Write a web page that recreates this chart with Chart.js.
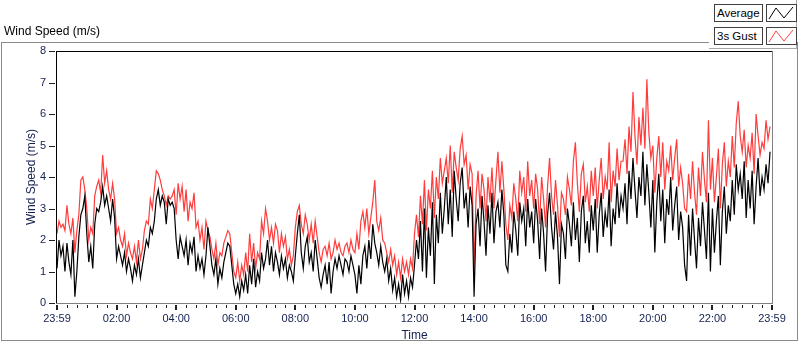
<!DOCTYPE html>
<html>
<head>
<meta charset="utf-8">
<script src="https://cdn.jsdelivr.net/npm/chart.js@4.4.1/dist/chart.umd.min.js"></script>
<style>
html,body{margin:0;padding:0;background:#fff;}
#wrap{position:relative;width:800px;height:342px;overflow:hidden;font-family:"Liberation Sans",Arial,sans-serif;}
#c{position:absolute;left:0;top:0;}
#title{position:absolute;left:4px;top:24px;font-size:12px;color:#000;white-space:nowrap;}
#frame{position:absolute;left:1px;top:42px;width:795px;height:297px;border:1px solid #8a8a8a;box-sizing:content-box;}
#legpanel{position:absolute;left:709px;top:0;width:87px;height:48px;background:#fff;border-right:1px solid #a8a8a8;border-bottom:1px solid #a8a8a8;}
.lbox{position:absolute;left:714px;width:45px;height:16px;border:1px solid #404040;background:#fff;font-size:11.5px;line-height:16px;padding-left:2px;color:#000;white-space:nowrap;}
.ibox{position:absolute;left:766px;width:29px;height:16px;border:1px solid #404040;background:#fff;}
.ibox svg{position:absolute;left:0;top:0;}
</style>
</head>
<body>
<div id="wrap">
  <div id="frame"></div>
  <canvas id="c" width="800" height="342"></canvas>
  <div id="title">Wind Speed (m/s)</div>
  <div id="legpanel"></div>
  <div class="lbox" style="top:4px">Average</div>
  <div class="ibox" style="top:4px"><svg width="29" height="16"><polyline points="2,14 9,3 17,13 26,2" fill="none" stroke="#000" stroke-width="1"/></svg></div>
  <div class="lbox" style="top:27px">3s Gust</div>
  <div class="ibox" style="top:27px"><svg width="29" height="16"><polyline points="2,14 9,3 17,13 26,2" fill="none" stroke="#ff4040" stroke-width="1"/></svg></div>
</div>
<script>
// Sample interval (minutes) of the series below, starting at the first tick
const sampleMinutes = 4;

// Average wind speed (m/s), 15 samples per hour
const averageSpeed = [
  1.1,2.0,1.5,1.8,1.0,1.9,1.3,0.9,2.0,0.2,1.0,2.1,2.8,3.0,3.4,
  2.2,1.3,1.8,1.1,2.5,3.0,2.9,3.2,3.7,3.1,3.4,3.0,2.6,3.3,2.7,
  1.4,1.8,1.5,1.2,1.6,1.0,1.4,1.1,0.7,1.2,0.9,1.4,0.8,1.2,1.6,
  2.0,1.8,2.4,2.2,2.6,3.3,3.6,3.1,3.4,3.2,2.5,3.3,3.1,3.2,3.0,
  2.0,1.4,2.1,1.8,1.5,2.0,1.2,1.9,1.6,2.1,1.0,1.5,1.1,1.4,0.9,
  1.5,2.4,1.8,1.2,0.9,1.4,0.6,1.1,0.8,1.3,1.6,1.9,1.8,1.2,0.6,
  0.3,0.6,0.2,0.7,0.4,0.9,0.3,1.2,0.6,1.4,0.5,1.0,0.7,1.6,1.1,
  1.4,2.0,1.2,1.8,1.0,1.6,1.3,0.9,1.5,1.1,1.4,0.8,1.2,1.0,0.7,
  1.5,2.2,2.8,1.6,1.1,1.8,2.1,1.3,1.6,1.0,2.0,1.4,0.8,0.5,0.9,
  1.2,0.6,1.3,0.3,1.0,1.4,1.1,1.5,1.2,0.9,1.4,1.3,1.0,1.5,1.2,
  0.9,0.3,1.2,0.6,1.5,1.8,1.1,2.0,1.4,2.5,1.9,1.6,1.2,1.8,1.3,
  1.0,1.4,0.7,1.1,0.4,0.8,0.2,0.6,0.1,0.9,0.3,0.7,0.2,0.8,0.5,
  1.2,2.0,1.4,2.6,1.0,3.0,0.8,2.4,1.5,3.2,0.6,2.8,1.9,3.5,2.2,
  3.0,4.0,2.5,3.6,2.1,4.2,3.3,2.6,3.8,4.3,3.0,3.5,2.4,3.7,3.1,
  0.2,2.5,3.0,1.8,3.4,2.6,1.5,3.1,2.2,3.5,1.9,2.9,3.2,2.4,3.6,
  2.8,1.2,1.0,2.2,1.6,2.9,2.3,1.5,3.2,2.6,3.0,1.8,3.3,2.4,2.9,
  1.9,3.3,2.6,1.4,3.0,2.2,1.0,2.8,3.5,2.4,1.7,2.9,2.1,0.6,2.5,
  2.2,1.4,3.0,2.5,1.8,3.2,2.0,2.7,1.3,2.9,3.4,1.9,2.6,1.6,3.1,
  2.3,3.3,1.6,2.8,3.5,2.1,2.9,2.4,3.6,1.8,3.0,2.5,3.8,2.7,3.4,
  3.0,3.8,2.5,4.2,3.3,4.6,3.6,2.7,4.0,3.4,4.8,3.1,4.4,3.5,2.4,
  3.9,1.6,3.2,4.1,2.6,3.6,1.9,3.3,2.8,4.0,2.3,3.1,3.7,2.0,2.9,
  2.4,1.2,0.7,2.8,1.5,3.0,2.0,1.1,2.7,1.8,3.2,2.3,1.4,3.5,1.0,
  3.0,1.6,2.6,3.4,1.2,2.9,3.7,2.2,3.1,2.6,3.9,2.8,4.4,3.6,4.1,
  3.3,4.5,2.7,3.9,3.0,4.2,2.5,3.7,4.6,3.4,4.0,3.6,4.4,3.8,4.8
];

// 3 second gust (m/s), 15 samples per hour
const gustSpeed = [
  2.2,2.6,2.4,2.5,2.3,3.1,2.5,2.2,2.7,1.6,2.3,2.8,3.9,4.0,3.6,
  3.0,2.0,2.4,2.2,3.4,3.7,3.9,3.5,4.7,3.8,4.2,3.6,3.3,3.8,3.3,
  2.2,2.4,2.0,1.8,2.2,1.5,1.9,1.6,1.4,1.8,1.3,2.0,1.4,1.7,2.3,
  2.6,2.5,3.3,3.0,3.6,4.2,4.1,3.9,3.6,3.4,3.1,3.4,3.3,3.4,3.6,
  2.8,3.8,3.3,3.7,2.9,3.6,2.6,3.2,3.0,3.5,2.4,2.6,2.0,2.4,1.7,
  2.6,2.3,2.1,1.7,1.4,1.9,1.2,1.6,1.5,1.9,2.1,2.3,2.2,1.6,1.0,
  0.8,1.3,0.7,1.2,0.9,1.6,1.0,2.2,1.3,1.9,1.1,1.6,1.4,2.6,2.2,
  3.0,2.6,2.0,2.4,1.9,2.5,2.3,1.6,2.2,1.8,2.1,1.4,1.7,1.2,1.5,
  2.4,2.9,3.1,2.5,2.2,2.8,2.5,2.0,2.5,1.9,2.6,2.1,1.6,1.3,1.7,
  1.8,1.5,1.9,1.4,1.6,2.0,1.7,1.9,1.6,1.5,1.8,1.9,1.6,2.0,1.7,
  1.6,2.2,1.7,2.6,2.9,2.4,3.0,2.2,2.7,3.2,3.9,2.6,2.3,2.7,2.0,
  1.9,1.6,1.3,1.7,1.2,1.5,0.9,1.3,0.8,1.4,1.0,1.3,0.9,1.4,1.1,
  2.2,2.8,2.1,3.4,2.5,3.9,2.3,3.6,3.0,4.2,2.7,4.0,3.3,4.6,3.8,
  4.2,4.6,3.8,5.0,3.5,4.8,4.3,3.9,4.9,5.3,4.4,4.7,3.6,4.4,4.1,
  1.1,3.4,4.2,3.0,4.1,3.6,2.6,4.0,3.2,4.3,3.0,3.9,4.8,3.5,4.5,
  3.6,2.5,2.0,3.1,2.7,3.8,3.3,2.6,4.2,3.5,4.0,2.9,4.5,3.4,3.9,
  3.0,4.1,3.6,2.5,4.0,3.3,2.4,3.7,4.6,3.4,2.8,3.9,3.1,2.1,3.5,
  3.3,2.8,4.0,3.6,3.1,4.5,5.1,3.8,2.9,4.1,4.4,3.2,3.7,2.9,4.2,
  3.4,4.3,3.0,3.9,4.6,3.3,4.0,3.6,5.1,3.2,4.2,3.7,4.9,3.9,4.5,
  4.5,5.2,4.1,5.6,4.8,6.7,5.3,4.4,5.9,5.0,6.2,4.9,7.1,5.4,4.6,
  5.0,3.5,4.6,5.3,4.0,5.1,3.6,4.5,4.2,5.0,3.9,4.6,5.2,3.7,4.3,
  3.8,3.0,2.9,4.1,3.3,4.5,3.5,2.8,4.3,3.4,4.8,3.9,3.2,5.8,3.6,
  4.6,3.2,4.0,4.9,3.0,4.4,5.1,3.7,4.5,4.0,5.3,4.3,5.7,6.4,5.3,
  4.8,5.5,4.3,5.0,4.6,5.4,4.1,6.0,5.3,4.7,5.1,4.9,5.8,5.2,5.6
];

// Time axis: labelled ticks (minutes from start) and their texts
const timeTickMinutes = [0,120,240,360,480,600,720,840,960,1080,1200,1320,1440];
const timeTickLabels  = ['23:59','02:00','04:00','06:00','08:00','10:00','12:00','14:00','16:00','18:00','20:00','22:00','23:59'];
const minorTickStep = 20;
const speedTicks = [0,1,2,3,4,5,6,7,8];

const avgPts = averageSpeed.map((v,i)=>({x:i*sampleMinutes,y:v}));
const gustPts = gustSpeed.map((v,i)=>({x:i*sampleMinutes,y:v}));

const AXIS_COLOR = '#142050';

const framePlugin = {
  id:'frameTicks',
  afterDraw(chart){
    const ctx = chart.ctx, a = chart.chartArea;
    const xs = chart.scales.x, ys = chart.scales.y;
    ctx.save();
    ctx.fillStyle = '#000';
    ctx.fillRect(Math.round(a.left)-1, Math.round(a.top), Math.round(a.right-a.left)+1, 1);
    ctx.fillRect(Math.round(a.left)-1, Math.round(a.top), 1, Math.round(a.bottom-a.top)+1);
    ctx.fillStyle = '#808080';
    ctx.fillRect(Math.round(a.left)-1, Math.round(a.bottom), Math.round(a.right-a.left)+2, 1);
    ctx.fillRect(Math.round(a.right), Math.round(a.top), 1, Math.round(a.bottom-a.top)+1);
    ctx.fillStyle = '#202020';
    for (let m = 0; m <= 1440; m += minorTickStep){
      const px = Math.round(xs.getPixelForValue(m));
      if (timeTickMinutes.includes(m)) ctx.fillRect(px-1, Math.round(a.bottom)+2, 2, 5);
      else ctx.fillRect(px, Math.round(a.bottom)+2, 1, 3);
    }
    speedTicks.forEach(v=>{
      const py = Math.round(ys.getPixelForValue(v));
      ctx.fillRect(Math.round(a.left)-8, py, 6, 1);
    });
    ctx.restore();
  }
};

new Chart(document.getElementById('c'), {
  type:'line',
  data:{
    datasets:[
      {label:'Average', data:avgPts, borderColor:'#000000', borderWidth:1.2, pointRadius:0, tension:0, fill:false},
      {label:'3s Gust', data:gustPts, borderColor:'#ff3c3c', borderWidth:1.2, pointRadius:0, tension:0, fill:false}
    ]
  },
  options:{
    responsive:false,
    animation:false,
    events:[],
    layout:{padding:{left:0,top:51,right:28,bottom:0}},
    plugins:{legend:{display:false}, tooltip:{enabled:false}},
    scales:{
      x:{
        type:'linear', min:0, max:1440,
        afterBuildTicks(scale){ scale.ticks = timeTickMinutes.map(v=>({value:v})); },
        ticks:{
          autoSkip:false, maxRotation:0, minRotation:0,
          callback:(v)=>{ const i = timeTickMinutes.indexOf(v); return i>=0 ? timeTickLabels[i] : ''; },
          font:{family:'Liberation Sans', size:11}, color:AXIS_COLOR, padding:9
        },
        grid:{display:false, drawTicks:false},
        border:{display:false},
        title:{display:true, text:'Time', font:{family:'Liberation Sans', size:12}, color:AXIS_COLOR, padding:{top:0,bottom:-1}},
        afterFit(scale){ scale.height = 39; }
      },
      y:{
        min:0, max:8,
        afterBuildTicks(scale){ scale.ticks = speedTicks.map(v=>({value:v})); },
        ticks:{font:{family:'Liberation Sans', size:11}, color:AXIS_COLOR, padding:11},
        grid:{display:false, drawTicks:false},
        border:{display:false},
        title:{display:true, text:'Wind Speed (m/s)', font:{family:'Liberation Sans', size:12}, color:AXIS_COLOR, padding:{top:24,bottom:0}},
        afterFit(scale){ scale.width = 57; }
      }
    }
  },
  plugins:[framePlugin]
});
</script>
</body>
</html>
